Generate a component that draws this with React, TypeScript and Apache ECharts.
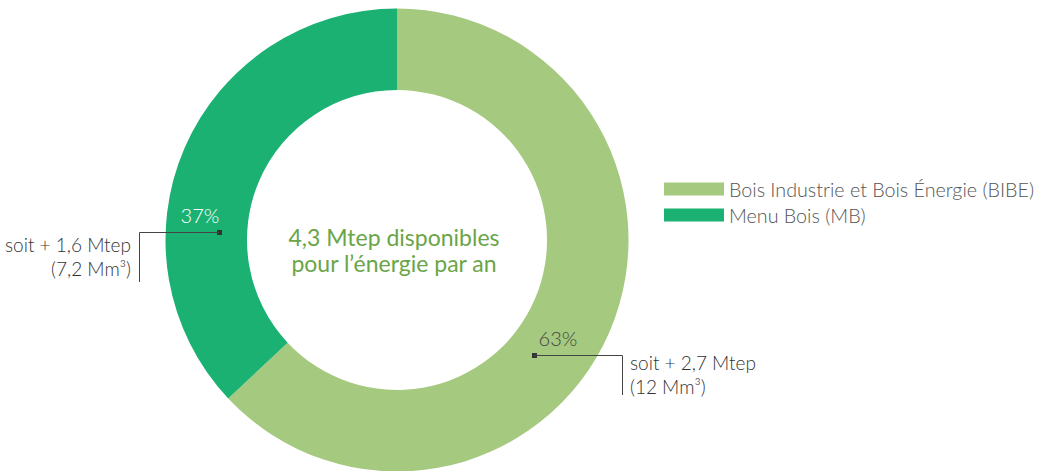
import React, { useEffect, useRef } from "react";
import * as echarts from "echarts";

const categories = ["Bois Industrie et Bois Énergie (BIBE)", "Menu Bois (MB)"];
const shares = [63, 37];
const mtepValues = ["2,7", "1,6"];
const volumeValues = ["12", "7,2"];
const colors = ["#A4C97F", "#1BB173"];
const centerLines = ["4,3 Mtep disponibles", "pour l’énergie par an"];

const FONT = "Lato, 'Open Sans', sans-serif";

export default function App() {
  const ref = useRef<HTMLDivElement>(null);
  useEffect(() => {
    document.body.style.margin = "0";
    const chart = echarts.init(ref.current!, null, { renderer: "svg" });
    const lineColor = "#444";
    const annoStyle = {
      fill: "#333",
      font: `300 19px ${FONT}`,
      verticalAlign: "middle",
    };
    chart.setOption({
      animation: false,
      color: colors,
      legend: {
        orient: "vertical",
        left: 664,
        top: 179,
        padding: 0,
        itemGap: 6,
        itemWidth: 60,
        itemHeight: 13,
        icon: "rect",
        selectedMode: false,
        textStyle: { fontFamily: FONT, fontSize: 19.7, fontWeight: 300, color: "#555" },
        data: categories,
      },
      series: [
        {
          type: "pie",
          center: [397, 240],
          radius: [150, 231.5],
          startAngle: 90,
          clockwise: true,
          label: { show: false },
          labelLine: { show: false },
          emphasis: { disabled: true },
          silent: true,
          z: 1,
          data: categories.map((name, i) => ({
            name,
            value: shares[i],
            itemStyle: { color: colors[i] },
          })),
        },
      ],
      graphic: [
        ...centerLines.map((line, i) => ({
          type: "text",
          x: 394,
          y: 237 + i * 26,
          z: 100,
          style: {
            text: line,
            fill: "#6AA548",
            font: `23px ${FONT}`,
            lineHeight: 22,
            align: "center",
            verticalAlign: "middle",
          },
        })),
        // MB (37%) label & annotation
        {
          type: "text",
          x: 200,
          y: 215,
          z: 100,
          style: {
            text: `${shares[1]}%`,
            fill: "#fff",
            font: `300 20px ${FONT}`,
            align: "center",
            verticalAlign: "middle",
          },
        },
        { type: "rect", z: 100, shape: { x: 217, y: 230, width: 5, height: 5 }, style: { fill: "#333" } },
        { type: "polyline", z: 100, shape: { points: [[219, 232.5], [139.5, 232.5], [139.5, 282]] }, style: { stroke: lineColor, lineWidth: 1, fill: null } },
        { type: "text", x: 131, y: 244, z: 100, style: { ...annoStyle, align: "right", text: `soit + ${mtepValues[1]} Mtep` } },
        { type: "text", x: 131, y: 268, z: 100, style: { ...annoStyle, align: "right", text: `(${volumeValues[1]} Mm³)` } },
        // BIBE (63%) label & annotation
        {
          type: "text",
          x: 558,
          y: 338,
          z: 100,
          style: {
            text: `${shares[0]}%`,
            fill: "#444",
            font: `300 20px ${FONT}`,
            align: "center",
            verticalAlign: "middle",
          },
        },
        { type: "rect", z: 100, shape: { x: 532, y: 353, width: 5, height: 5 }, style: { fill: "#333" } },
        { type: "polyline", z: 100, shape: { points: [[534, 355.5], [622.5, 355.5], [622.5, 395]] }, style: { stroke: lineColor, lineWidth: 1, fill: null } },
        { type: "text", x: 630, y: 362, z: 100, style: { ...annoStyle, align: "left", text: `soit + ${mtepValues[0]} Mtep` } },
        { type: "text", x: 630, y: 386, z: 100, style: { ...annoStyle, align: "left", text: `(${volumeValues[0]} Mm³)` } },
      ],
    });
    return () => chart.dispose();
  }, []);
  return <div ref={ref} style={{ width: 1047, height: 471 }} />;
}
